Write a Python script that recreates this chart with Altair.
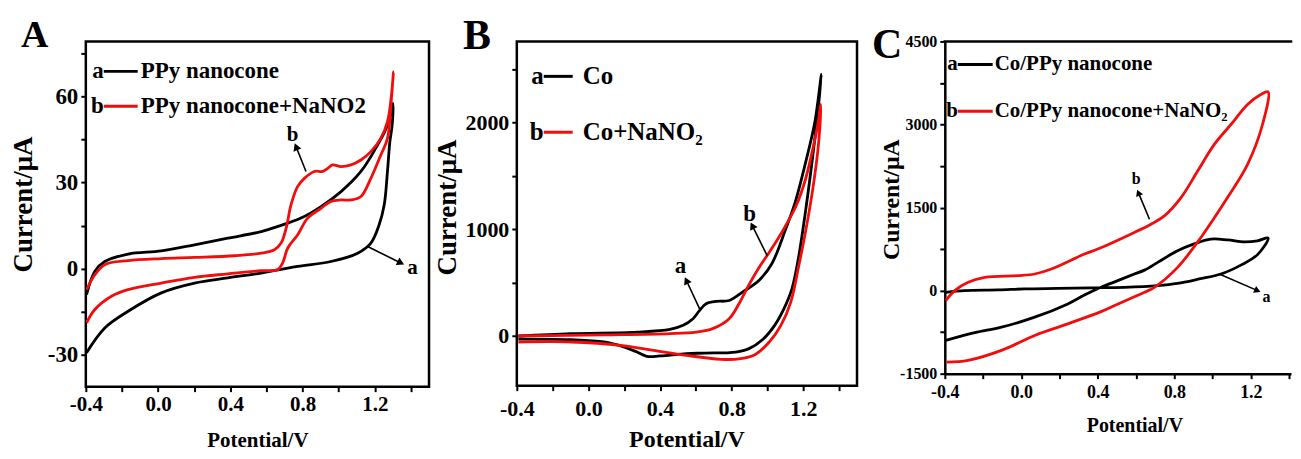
import math
import altair as alt
import pandas as pd

FONT = "Liberation Serif"
INK = "#000000"
RED = "#f20d0d"

X_TICKS = [-0.4, -0.2, 0.0, 0.2, 0.4, 0.6, 0.8, 1.0, 1.2, 1.4]

# ---------------- Panel A : PPy nanocone ----------------
A_black_x = [-0.396, -0.350, -0.295, -0.166, 0.018, 0.202, 0.386, 0.571, 0.663, 0.791, 0.902, 1.013,
             1.123, 1.215, 1.270, 1.300,
             1.296, 1.283, 1.270, 1.252, 1.224, 1.178, 1.105, 0.957, 0.773, 0.571, 0.386, 0.202,
             0.018, -0.166, -0.295, -0.396]
A_black_y = [-9.0, -0.9, 2.5, 5.1, 6.2, 8.3, 10.6, 12.9, 14.7, 17.6, 21.6, 26.8,
             33.8, 43.0, 49.9, 57.5,
             50.0, 44.0, 33.8, 22.2, 15.3, 8.9, 5.4, 2.5, 0.8, -1.5, -3.2, -5.0,
             -8.4, -14.8, -20.6, -29.2]
A_red_x = [-0.396, -0.350, -0.295, -0.166, 0.018, 0.202, 0.423, 0.571, 0.644, 0.681, 0.709, 0.736,
           0.773, 0.810, 0.865, 0.911, 0.939, 0.966, 1.013, 1.068, 1.123, 1.178, 1.233, 1.270,
           1.292, 1.303,
           1.292, 1.270, 1.233, 1.178, 1.123, 1.068, 1.013, 0.957, 0.902, 0.828, 0.773, 0.718,
           0.690, 0.663, 0.571, 0.386, 0.202, 0.018, -0.166, -0.258, -0.350, -0.396]
A_red_y = [-7.3, -2.1, 1.4, 2.8, 3.5, 3.9, 4.5, 5.4, 6.6, 8.9, 14.1, 22.2,
           28.6, 31.4, 33.8, 33.8, 34.9, 36.1, 35.5, 36.1, 37.8, 40.7, 45.3, 51.1,
           60.3, 68.4,
           59.2, 45.3, 39.5, 31.4, 25.1, 23.9, 23.9, 23.4, 21.0, 17.6, 11.8, 7.2,
           2.0, -0.3, -0.7, -1.8, -3.0, -5.0, -7.3, -9.6, -14.2, -18.8]
A_y_ticks = [-30, -15, 0, 15, 30, 45, 60, 75]
A_series = ["PPy nanocone", "PPy nanocone+NaNO2"]
A_arrow_x = [0.819, 1.160]
A_arrow_y = [33.8, 7.7]
A_tip_x = [0.764, 1.344]
A_tip_y = [42.4, 2.0]
A_note_x = [0.745, 1.408]
A_note_y = [46.5, 0.2]
A_note_text = ["b", "a"]

# ---------------- Panel B : Co ----------------
B_black_x = [-0.391, -0.097, 0.271, 0.455, 0.529, 0.584, 0.621, 0.657, 0.713, 0.786, 0.860, 0.952,
             1.025, 1.099, 1.154, 1.209, 1.264, 1.301,
             1.283, 1.246, 1.209, 1.172, 1.136, 1.090, 1.040, 0.975, 0.897, 0.823, 0.650, 0.547,
             0.400, 0.326, 0.271, 0.198, 0.087, -0.097, -0.391]
B_black_y = [0, 22, 37, 62, 100, 162, 240, 302, 324, 333, 411, 520,
             680, 990, 1250, 1600, 2000, 2452,
             2124, 1595, 1128, 723, 440, 250, 100, -30, -118, -150, -160, -165,
             -187, -190, -150, -103, -56, -35, -30]
B_red_x = [-0.391, 0.087, 0.455, 0.602, 0.694, 0.786, 0.840, 0.890, 0.952, 1.000, 1.062, 1.110,
           1.160, 1.209, 1.246, 1.283, 1.297,
           1.285, 1.255, 1.215, 1.175, 1.130, 1.075, 1.010, 0.930, 0.840, 0.740, 0.547, 0.363,
           0.179, -0.097, -0.391]
B_red_y = [0, 10, 22, 37, 69, 162, 300, 460, 640, 760, 920, 1060,
           1220, 1450, 1700, 2000, 2171,
           1800, 1400, 1000, 660, 318, 100, -56, -175, -215, -218, -181, -134,
           -87, -56, -56]
B_y_ticks = [0, 500, 1000, 1500, 2000, 2500]
B_series = ["Co", "Co+NaNO\u2082"]
B_arrow_x = [0.621, 0.998]
B_arrow_y = [255, 754]
B_tip_x = [0.547, 0.915]
B_tip_y = [520, 1034]
B_note_x = [0.514, 0.900]
B_note_y = [660, 1143]
B_note_text = ["a", "b"]

# ---------------- Panel C : Co/PPy nanocone ----------------
C_black_x = [-0.395, -0.296, -0.122, 0.017, 0.191, 0.365, 0.539, 0.713, 0.817, 0.930, 1.044, 1.148,
             1.235, 1.290,
             1.235, 1.165, 1.080, 0.991, 0.900, 0.817, 0.713, 0.644, 0.591, 0.504, 0.417, 0.330,
             0.243, 0.070, -0.104, -0.243, -0.395]
C_black_y = [-30, 0, 12, 30, 40, 50, 60, 90, 130, 210, 300, 460,
             650, 950,
             900, 880, 915, 930, 840, 720, 510, 370, 300, 180, 60, -80,
             -240, -480, -660, -760, -900]
C_red_x = [-0.395, -0.348, -0.278, -0.191, -0.017, 0.070, 0.157, 0.330, 0.400, 0.591, 0.678, 0.748,
           0.835, 0.922, 1.009, 1.096, 1.183, 1.252, 1.290,
           1.261, 1.183, 1.078, 0.939, 0.817, 0.696, 0.644, 0.591, 0.500, 0.417, 0.243, 0.070,
           -0.104, -0.278, -0.391]
C_red_y = [-180, 0, 150, 240, 270, 300, 390, 660, 750, 1050, 1200, 1350,
           1680, 2160, 2640, 3000, 3360, 3540, 3588,
           3000, 2280, 1680, 960, 420, 60, -30, -110, -250, -380, -600, -810,
           -1080, -1260, -1290]
C_y_ticks = [-1500, -750, 0, 750, 1500, 2250, 3000, 3750, 4500]
C_series = ["Co/PPy nanocone", "Co/PPy nanocone+NaNO\u2082"]
C_arrow_x = [0.670, 1.035]
C_arrow_y = [1290, 300]
C_tip_x = [0.612, 1.235]
C_tip_y = [1770, 0]
C_note_x = [0.600, 1.282]
C_note_y = [2010, -120]
C_note_text = ["b", "a"]

LEGEND_KEYS = ["a", "b"]
PANEL_LETTERS = ["A", "B", "C"]

X_LABEL = "abs(round(datum.value * 10)) % 4 == 0 ? replace(format(datum.value, '.1f'), '\u2212', '-') : ''"


def y_label(step):
    return ("datum.value % " + str(step) +
            " == 0 ? replace(format(datum.value, 'd'), '\u2212', '-') : ''")


def path_df(xs, ys):
    return pd.DataFrame({"x": xs, "y": ys, "i": list(range(len(xs)))})


def panel(p):
    W, H = p["W"], p["H"]
    xdom, ydom = p["xdom"], p["ydom"]
    domain_on = p["domain"]
    xaxis = alt.Axis(
        values=X_TICKS, labelExpr=X_LABEL, labelFont=FONT, labelFontWeight="bold",
        labelFontSize=p["xl_size"], labelColor=INK, labelPadding=p["xl_pad"], labelFlush=False,
        labelOverlap=False, tickColor=INK, tickWidth=2, tickSize=5, grid=False,
        domain=domain_on, domainColor=INK, domainWidth=2.5,
        title="Potential/V", titleFont=FONT, titleFontWeight="bold", titleColor=INK,
        titleFontSize=p["xt_size"], titleY=p["xt_y"], titleX=p["xt_x"], titleAlign="center",
        titleBaseline="alphabetic")
    yaxis = alt.Axis(
        values=p["yticks"], labelExpr=y_label(p["ystep"]), labelFont=FONT, labelFontWeight="bold",
        labelFontSize=p["yl_size"], labelColor=INK, labelPadding=3, labelOverlap=False,
        labelFlush=False, tickColor=INK, tickWidth=2, tickSize=5, grid=False,
        domain=domain_on, domainColor=INK, domainWidth=2.5,
        title="Current/\u03bcA", titleFont=FONT, titleFontWeight="bold", titleColor=INK,
        titleFontSize=p["yt_size"], titleAngle=270, titleX=p["yt_x"], titleY=p["yt_y"],
        titleAlign="center", titleBaseline="alphabetic")
    xs = alt.Scale(domain=xdom, nice=False, zero=False)
    ys = alt.Scale(domain=ydom, nice=False, zero=False)
    xe = alt.X("x:Q", scale=xs, axis=xaxis)
    ye = alt.Y("y:Q", scale=ys, axis=yaxis)

    layers = []
    layers.append(alt.Chart(path_df(p["bx"], p["by"])).mark_line(
        color=INK, strokeWidth=2.8, strokeJoin="round", interpolate="catmull-rom", clip=True).encode(
        x=xe, y=ye, order=alt.Order("i:Q")))
    layers.append(alt.Chart(path_df(p["rx"], p["ry"])).mark_line(
        color=RED, strokeWidth=2.8, strokeJoin="round", interpolate="catmull-rom", clip=True).encode(
        x=xe, y=ye, order=alt.Order("i:Q")))

    # arrows
    kx = W / (xdom[1] - xdom[0])
    ky = H / (ydom[1] - ydom[0])
    angs = []
    for x0, y0, x1, y1 in zip(p["ax"], p["ay"], p["tx"], p["ty"]):
        dx = (x1 - x0) * kx
        dy = -(y1 - y0) * ky
        angs.append(math.degrees(math.atan2(dx, -dy)) % 360)
    arr = pd.DataFrame({"x": p["ax"], "y": p["ay"], "x2": p["tx"], "y2": p["ty"]})
    layers.append(alt.Chart(arr).mark_rule(color=INK, strokeWidth=1.6).encode(
        x=xe, y=ye, x2="x2:Q", y2="y2:Q"))
    heads = pd.DataFrame({"x": p["tx"], "y": p["ty"], "ang": angs})
    layers.append(alt.Chart(heads).mark_point(
        shape="triangle-up", filled=True, color=INK, opacity=1, size=p["head"]).encode(
        x=xe, y=ye, angle=alt.Angle("ang:Q", scale=None)))
    notes = pd.DataFrame({"x": p["nx"], "y": p["ny"], "t": p["nt"]})
    layers.append(alt.Chart(notes).mark_text(
        font=FONT, fontWeight="bold", fontSize=p["note_size"], color=INK,
        align="center", baseline="middle").encode(x=xe, y=ye, text="t:N"))

    # legend (key letter, line, label)
    lg = p["legend"]
    colors = [INK, RED]
    for k in range(2):
        row_y = lg["rows"][k]
        one = pd.DataFrame({"t": [LEGEND_KEYS[k]]})
        layers.append(alt.Chart(one).mark_text(
            font=FONT, fontWeight="bold", fontSize=lg["size"], color=INK,
            align="right", baseline="middle").encode(
            x=alt.value(lg["x1"]), y=alt.value(row_y), text="t:N"))
        layers.append(alt.Chart(one).mark_rule(color=colors[k], strokeWidth=3).encode(
            x=alt.value(lg["x1"]), x2=alt.value(lg["x2"]), y=alt.value(row_y)))
        lab = pd.DataFrame({"t": [p["series"][k]]})
        layers.append(alt.Chart(lab).mark_text(
            font=FONT, fontWeight="bold", fontSize=lg["size"], color=INK,
            align="left", baseline="middle").encode(
            x=alt.value(lg["tx"]), y=alt.value(row_y), text="t:N"))

    # panel letter
    let = pd.DataFrame({"t": [p["letter"]]})
    layers.append(alt.Chart(let).mark_text(
        font=FONT, fontWeight="bold", fontSize=p["letter_size"], color=INK,
        align="left", baseline="alphabetic").encode(
        x=alt.value(p["letter_x"]), y=alt.value(p["letter_y"]), text="t:N"))

    if not p["frame"]:
        top = pd.DataFrame({"k": [0]})
        layers.append(alt.Chart(top).mark_rule(color=INK, strokeWidth=2.5, strokeCap="square").encode(
            x=alt.value(0), x2=alt.value(W), y=alt.value(0)))

    view = (alt.ViewBackground(stroke=INK, strokeWidth=2.5) if p["frame"]
            else alt.ViewBackground(stroke="transparent", strokeWidth=0))
    return alt.layer(*layers).properties(width=W, height=H, view=view)


panel_A = panel(dict(
    W=344, H=346, xdom=[-0.4, 1.5], ydom=[-41, 79], yticks=A_y_ticks, ystep=30,
    bx=A_black_x, by=A_black_y, rx=A_red_x, ry=A_red_y, series=A_series,
    ax=A_arrow_x, ay=A_arrow_y, tx=A_tip_x, ty=A_tip_y, nx=A_note_x, ny=A_note_y, nt=A_note_text,
    xl_size=21, xl_pad=2, yl_size=23, xt_size=21, xt_y=60, xt_x=172, yt_size=27, yt_x=-54, yt_y=163,
    note_size=21, head=70, frame=True, domain=False,
    legend=dict(x1=18, x2=52, tx=55, rows=[30, 65], size=23),
    letter=PANEL_LETTERS[0], letter_size=38, letter_x=-65, letter_y=6))

panel_B = panel(dict(
    W=341, H=345, xdom=[-0.4, 1.5], ydom=[-465, 2760], yticks=B_y_ticks, ystep=1000,
    bx=B_black_x, by=B_black_y, rx=B_red_x, ry=B_red_y, series=B_series,
    ax=B_arrow_x, ay=B_arrow_y, tx=B_tip_x, ty=B_tip_y, nx=B_note_x, ny=B_note_y, nt=B_note_text,
    xl_size=22, xl_pad=8, yl_size=22, xt_size=24, xt_y=61, xt_x=170, yt_size=27, yt_x=-61, yt_y=166,
    note_size=23, head=70, frame=True, domain=False,
    legend=dict(x1=27, x2=56, tx=66, rows=[35, 91], size=25),
    letter=PANEL_LETTERS[1], letter_size=42, letter_x=-54, letter_y=8))

panel_C = panel(dict(
    W=347, H=333, xdom=[-0.4, 1.41], ydom=[-1500, 4500], yticks=C_y_ticks, ystep=1500,
    bx=C_black_x, by=C_black_y, rx=C_red_x, ry=C_red_y, series=C_series,
    ax=C_arrow_x, ay=C_arrow_y, tx=C_tip_x, ty=C_tip_y, nx=C_note_x, ny=C_note_y, nt=C_note_text,
    xl_size=18, xl_pad=5, yl_size=16, xt_size=20, xt_y=58, xt_x=190, yt_size=24, yt_x=-46, yt_y=158,
    note_size=16, head=55, frame=False, domain=True,
    legend=dict(x1=13, x2=48, tx=50, rows=[23, 70], size=21),
    letter=PANEL_LETTERS[2], letter_size=42, letter_x=-73, letter_y=17))

chart = alt.hconcat(panel_A, panel_B, panel_C, spacing=88, bounds="flush").properties(
    padding={"left": 0, "top": 5, "right": 0, "bottom": 0},
    background="white")

chart.save("out.html", embed_options={"renderer": "svg", "actions": False})
